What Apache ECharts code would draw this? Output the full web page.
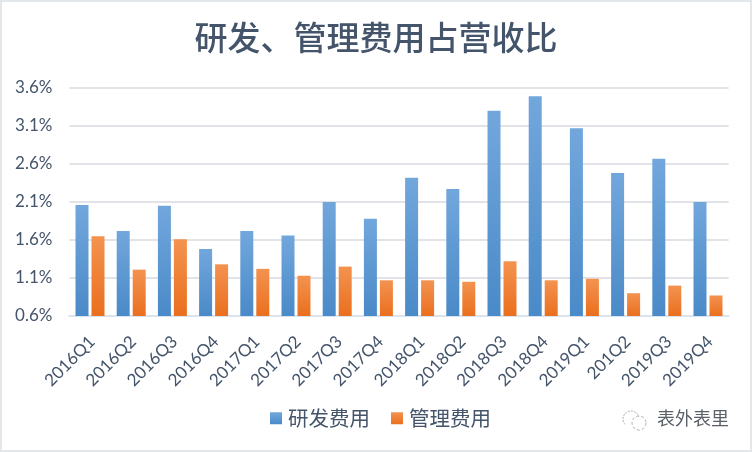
<!DOCTYPE html>
<html><head><meta charset="utf-8">
<style>html,body{margin:0;padding:0;background:#fff}#c{width:752px;height:452px}</style>
<script src="https://cdn.jsdelivr.net/npm/echarts@6/dist/echarts.min.js"></script>
</head><body><div id="c"></div>
<script>
const categories=['2016Q1','2016Q2','2016Q3','2016Q4','2017Q1','2017Q2','2017Q3','2017Q4','2018Q1','2018Q2','2018Q3','2018Q4','2019Q1','201Q2','2019Q3','2019Q4'];
const rd=[2.06,1.72,2.05,1.48,1.72,1.66,2.10,1.88,2.42,2.27,3.30,3.49,3.07,2.48,2.67,2.10];
const admin=[1.65,1.21,1.61,1.28,1.22,1.13,1.25,1.07,1.07,1.05,1.32,1.07,1.09,0.90,1.00,0.87];
const yMin=0.6,yMax=3.6,yStep=0.5;
const font='"Noto Sans CJK SC","Noto Sans",sans-serif';
const ink='#44546a';
function grad(a,b){return new echarts.graphic.LinearGradient(0,0,0,1,[{offset:0,color:a},{offset:1,color:b}]);}
const chart=echarts.init(document.getElementById('c'));
chart.setOption({
 animation:false,backgroundColor:'#fff',
 title:{text:'研发、管理费用占营收比',left:371,top:16,textAlign:'center',textStyle:{color:ink,fontSize:33,fontWeight:500,fontFamily:font}},
 grid:{left:69.4,right:23.4,top:88,bottom:136,containLabel:false},
 legend:{data:['研发费用','管理费用'],left:265,top:403,itemWidth:12,itemHeight:12,itemGap:21,icon:'rect',textStyle:{color:ink,fontSize:20.5,fontFamily:font,padding:[0,0,0,1]}},
 xAxis:{type:'category',data:categories,axisTick:{show:false},axisLine:{lineStyle:{color:'#dbe3ee',width:2}},
  axisLabel:{rotate:45,color:ink,fontSize:17,fontFamily:'Lato,sans-serif',margin:25,interval:0,padding:[0,-3,0,0]}},
 yAxis:{type:'value',min:yMin,max:yMax,interval:yStep,axisLine:{show:false},axisTick:{show:false},
  splitLine:{lineStyle:{color:'#e1e3e8',width:2}},
  axisLabel:{color:ink,fontSize:17,fontFamily:'Lato,sans-serif',margin:17,formatter:v=>v.toFixed(1)+'%'}},
 series:[
  {name:'研发费用',type:'bar',data:rd,barWidth:13,barGap:'23%',itemStyle:{color:grad('#72a7dc','#4a8ac8')}},
  {name:'管理费用',type:'bar',data:admin,barWidth:13,itemStyle:{color:grad('#f39350','#ea6f1e')}}
 ],
 graphic:[
  {type:'rect',silent:true,z:-1,shape:{x:1,y:1,width:750,height:450},style:{fill:'none',stroke:'#e3e7ec',lineWidth:2}},
  {type:'text',x:657,y:409,style:{text:'表外表里',fill:'#5a6068',font:'18px "Noto Sans CJK SC",sans-serif'}},
  {type:'arc',x:622,y:410,shape:{cx:9,cy:9,r:8,startAngle:2.4,endAngle:6.0},style:{fill:'none',stroke:'#aeb2b6',lineWidth:1,lineDash:[2,1]}},
  {type:'circle',x:622,y:410,shape:{cx:17,cy:13,r:7},style:{fill:'none',stroke:'#aeb2b6',lineWidth:1,lineDash:[3,2]}}
 ]
});
</script></body></html>
